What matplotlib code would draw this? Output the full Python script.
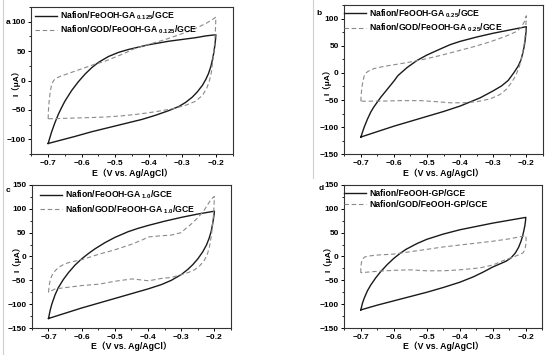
import matplotlib
matplotlib.use("Agg")
import matplotlib.pyplot as plt
from matplotlib.lines import Line2D
from matplotlib.ticker import MultipleLocator

plt.rcParams['font.family'] = ['Liberation Sans', 'Noto Sans CJK SC', 'DejaVu Sans']
plt.rcParams['mathtext.fontset'] = 'custom'
plt.rcParams['mathtext.rm'] = 'Liberation Sans:bold'
plt.rcParams['mathtext.it'] = 'Liberation Sans:bold'
plt.rcParams['mathtext.bf'] = 'Liberation Sans:bold'

# ---- panel a ----
a_solid_E = [-0.700, -0.690, -0.680, -0.670, -0.660, -0.650, -0.630, -0.610, -0.590,
             -0.570, -0.550, -0.520, -0.490, -0.460, -0.430, -0.400, -0.370, -0.340,
             -0.300, -0.260, -0.230, -0.200,
             -0.201, -0.203, -0.206, -0.210, -0.215, -0.222, -0.230, -0.240, -0.255,
             -0.270, -0.290, -0.310, -0.340, -0.380, -0.420, -0.470, -0.520, -0.570,
             -0.620, -0.660, -0.700]
a_solid_I = [-107, -88, -72, -58, -46, -35, -17, -2, 11,
             22, 31, 41, 48, 53, 57, 61, 64, 67,
             70, 73, 76, 78,
             70, 60, 48, 36, 24, 12, 2, -8, -19,
             -28, -37, -44, -51, -59, -66, -73, -80, -87,
             -95, -101, -107]
a_dash_E = [-0.700, -0.699, -0.697, -0.694, -0.690, -0.684, -0.676, -0.665, -0.650,
            -0.620, -0.590, -0.560, -0.530, -0.500, -0.470, -0.440, -0.410, -0.380,
            -0.350, -0.320, -0.290, -0.260, -0.230, -0.210, -0.200,
            -0.201, -0.203, -0.206, -0.210, -0.214, -0.220, -0.228, -0.240, -0.260,
            -0.290, -0.330, -0.380, -0.430, -0.480, -0.530, -0.580, -0.640, -0.700]
a_dash_I = [-65, -50, -35, -20, -8, 0, 4, 7, 10,
            16, 22, 28, 33, 40, 47, 55, 60, 65,
            70, 76, 82, 89, 97, 104, 108,
            90, 70, 50, 30, 12, -2, -14, -25, -35,
            -42, -48, -53, -57, -60, -62, -63, -64, -65]

# ---- panel b ----
b_solid_E = [-0.700, -0.690, -0.680, -0.670, -0.660, -0.640, -0.620, -0.600, -0.588,
             -0.560, -0.530, -0.500, -0.460, -0.430, -0.400, -0.350, -0.300, -0.250,
             -0.200,
             -0.201, -0.203, -0.206, -0.210, -0.216, -0.225, -0.238, -0.255, -0.275,
             -0.300, -0.340, -0.400, -0.450, -0.500, -0.550, -0.600, -0.650, -0.700]
b_solid_I = [-118, -100, -85, -72, -62, -45, -30, -15, -5,
             10, 23, 33, 44, 52, 58, 66, 73, 79,
             85,
             75, 62, 50, 38, 24, 12, 0, -14, -24,
             -33, -46, -61, -71, -80, -89, -98, -108, -118]
b_dash_E = [-0.700, -0.699, -0.697, -0.694, -0.690, -0.684, -0.678, -0.660, -0.630,
            -0.600, -0.560, -0.510, -0.460, -0.410, -0.360, -0.310, -0.260, -0.230,
            -0.215, -0.205, -0.200,
            -0.201, -0.203, -0.206, -0.210, -0.215, -0.222, -0.232, -0.245, -0.260,
            -0.280, -0.310, -0.350, -0.390, -0.430, -0.470, -0.520, -0.580, -0.640,
            -0.700]
b_dash_I = [-52, -40, -28, -16, -6, 0, 3, 8, 12,
            15, 19, 25, 32, 40, 48, 57, 68, 76,
            84, 95, 105,
            90, 72, 55, 40, 25, 10, -5, -18, -30,
            -40, -48, -53, -55, -55, -53, -51, -51, -52,
            -52]

# ---- panel c ----
c_solid_E = [-0.700, -0.695, -0.690, -0.680, -0.670, -0.655, -0.640, -0.620, -0.600,
             -0.580, -0.560, -0.530, -0.500, -0.460, -0.430, -0.400, -0.350, -0.300,
             -0.250, -0.200,
             -0.201, -0.203, -0.206, -0.210, -0.216, -0.224, -0.235, -0.250, -0.265,
             -0.280, -0.300, -0.330, -0.360, -0.400, -0.450, -0.500, -0.550, -0.600,
             -0.650, -0.700]
c_solid_I = [-130, -113, -100, -80, -65, -48, -34, -18, -5,
             6, 16, 29, 40, 52, 59, 65, 74, 82,
             89, 95,
             88, 78, 66, 52, 38, 24, 10, -5, -17,
             -27, -38, -50, -59, -68, -78, -88, -98, -108,
             -119, -130]
c_dash_E = [-0.700, -0.698, -0.695, -0.690, -0.680, -0.670, -0.655, -0.636, -0.615,
            -0.596, -0.570, -0.547, -0.500, -0.448, -0.420, -0.398, -0.368, -0.329,
            -0.300, -0.289, -0.270, -0.250, -0.230, -0.210, -0.200,
            -0.201, -0.203, -0.206, -0.210, -0.215, -0.222, -0.232, -0.245, -0.260,
            -0.280, -0.300, -0.330, -0.360, -0.398, -0.448, -0.500, -0.547, -0.600,
            -0.646, -0.680, -0.700]
c_dash_I = [-75, -62, -50, -40, -30, -23, -17, -12, -9,
            -6, 0, 5, 14, 26, 34, 41, 43, 45,
            50, 57, 68, 81, 98, 120, 126,
            108, 85, 62, 40, 20, 3, -10, -20, -28,
            -34, -38, -44, -46, -51, -47, -52, -58, -61,
            -65, -68, -75]

# ---- panel d ----
d_solid_E = [-0.700, -0.695, -0.690, -0.680, -0.670, -0.655, -0.640, -0.620, -0.600,
             -0.580, -0.563, -0.530, -0.500, -0.450, -0.400, -0.350, -0.300, -0.250,
             -0.200,
             -0.201, -0.203, -0.206, -0.210, -0.215, -0.222, -0.232, -0.245, -0.260,
             -0.280, -0.300, -0.330, -0.360, -0.400, -0.450, -0.500, -0.550, -0.600,
             -0.650, -0.700]
d_solid_I = [-112, -98, -88, -72, -60, -45, -32, -17, -4,
             7, 15, 27, 36, 47, 56, 63, 70, 76,
             82,
             74, 64, 54, 42, 31, 19, 7, -3, -10,
             -16, -22, -33, -43, -54, -65, -75, -84, -93,
             -102, -112]
d_dash_E = [-0.700, -0.700, -0.699, -0.697, -0.694, -0.688, -0.676, -0.650, -0.600,
            -0.550, -0.500, -0.450, -0.400, -0.350, -0.300, -0.250, -0.220, -0.200,
            -0.199, -0.200, -0.203, -0.208, -0.215, -0.230, -0.250, -0.270, -0.300,
            -0.340, -0.400, -0.450, -0.500, -0.550, -0.600, -0.650, -0.700]
d_dash_I = [-34, -25, -17, -10, -5, -1, 1, 3, 5,
            10, 15, 20, 24, 28, 32, 37, 41, 44,
            35, 24, 14, 8, 5, 1, -4, -9, -18,
            -24, -28, -30, -30, -28, -29, -31, -34]

panels = [
    ('a', a_solid_E, a_solid_I, a_dash_E, a_dash_I,
     r'Nafion/FeOOH-GA$_{\ 0.125}$/GCE', r'Nafion/GOD/FeOOH-GA$_{\ 0.125}$/GCE'),
    ('b', b_solid_E, b_solid_I, b_dash_E, b_dash_I,
     r'Nafion/FeOOH-GA$_{\ 0.25}$/GCE', r'Nafion/GOD/FeOOH-GA$_{\ 0.25}$/GCE'),
    ('c', c_solid_E, c_solid_I, c_dash_E, c_dash_I,
     r'Nafion/FeOOH-GA$_{\ 1.0}$/GCE', r'Nafion/GOD/FeOOH-GA$_{\ 1.0}$/GCE'),
    ('d', d_solid_E, d_solid_I, d_dash_E, d_dash_I,
     'Nafion/FeOOH-GP/GCE', 'Nafion/GOD/FeOOH-GP/GCE'),
]

# axes rectangles (figure fraction) and y ranges
rects = [[0.057, 0.566, 0.366, 0.414],
         [0.626, 0.565, 0.361, 0.421],
         [0.058, 0.076, 0.362, 0.403],
         [0.626, 0.076, 0.360, 0.403]]
ylims = [(-125, 125), (-150, 125), (-150, 150), (-150, 150)]
yticks = [[-100, -50, 0, 50, 100],
          [-150, -100, -50, 0, 50, 100],
          [-150, -100, -50, 0, 50, 100, 150],
          [-150, -100, -50, 0, 50, 100, 150]]
tag_pos = [(0.011, 0.938), (0.576, 0.961), (0.010, 0.462), (0.580, 0.470)]
ylabel_x = [-0.052, -0.062, -0.052, -0.062]
leg_anchor = [(0.01, 0.995), (-0.01, 0.995), (0.03, 0.985), (-0.01, 0.985)]

fig = plt.figure(figsize=(5.5, 3.55), dpi=100)

for (tag, sE, sI, dE, dI, lab1, lab2), rect, yl, yt, tp, ylx, la in zip(
        panels, rects, ylims, yticks, tag_pos, ylabel_x, leg_anchor):
    ax = fig.add_axes(rect)
    ax.plot(sE, sI, color='#1a1a1a', lw=1.0, label=lab1)
    ax.plot(dE, dI, color='#8a8a8a', lw=0.8, dashes=(4, 2.5), label=lab2)
    ax.set_xlim(-0.75, -0.15)
    ax.set_ylim(*yl)
    ax.set_xticks([-0.7, -0.6, -0.5, -0.4, -0.3, -0.2])
    ax.set_xticklabels(['\u22120.7', '\u22120.6', '\u22120.5', '\u22120.4', '\u22120.3', '\u22120.2'])
    ax.set_yticks(yt)
    ax.set_yticklabels([('\u2212' + str(-v)) if v < 0 else str(v) for v in yt])
    ax.xaxis.set_minor_locator(MultipleLocator(0.05))
    ax.yaxis.set_minor_locator(MultipleLocator(25))
    ax.tick_params(which='major', direction='out', length=2.5, width=0.7,
                   labelsize=6, pad=1.5, top=False, right=False)
    ax.tick_params(which='minor', direction='out', length=1.5, width=0.6,
                   top=False, right=False)
    for lbl in ax.get_xticklabels() + ax.get_yticklabels():
        lbl.set_fontweight('bold')
    for sp in ax.spines.values():
        sp.set_linewidth(0.8)
        sp.set_color('#333333')
    ax.set_xlabel('E\uff08V vs. Ag/AgCl\uff09', fontsize=6.3, fontweight='bold', labelpad=1)
    ax.set_ylabel('I\uff08\u03bcA\uff09', fontsize=6, fontweight='bold')
    ax.yaxis.set_label_coords(ylx, 0.5)
    leg = ax.legend(loc='upper left', bbox_to_anchor=la, frameon=False, fontsize=6.2,
                    handlelength=2.6, handletextpad=0.35, borderaxespad=0.0,
                    labelspacing=0.2, borderpad=0.2)
    for t in leg.get_texts():
        t.set_fontweight('bold')
    fig.text(tp[0], tp[1], tag, fontsize=6, fontweight='bold', ha='left', va='center')

# faint scan borders
fig.add_artist(Line2D([0.006, 0.006], [0.0, 1.0], color='#cfcfcf', lw=0.8))
fig.add_artist(Line2D([0.569, 0.569], [0.5, 1.0], color='#cfcfcf', lw=0.8))

fig.savefig('out.png', dpi=100)
